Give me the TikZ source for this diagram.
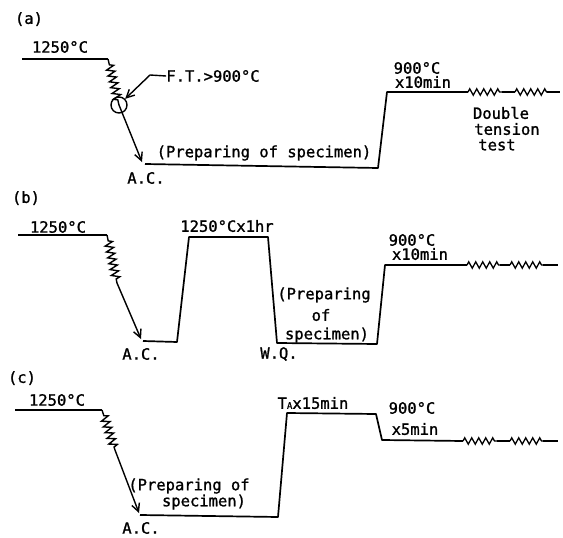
\documentclass[tikz,border=0pt]{standalone}
\usepackage{fontspec}
\setmainfont{DejaVu Sans Mono}[AutoFakeBold=1.2]
\usetikzlibrary{decorations.pathmorphing,arrows.meta}
\tikzset{
  curve/.style={line width=1.7pt, line join=round},
  zz/.style={line width=1.3pt, decorate, decoration={zigzag, segment length=7pt, amplitude=3.2pt}},
  zzd/.style={line width=1.4pt, decorate, decoration={zigzag, segment length=6pt, amplitude=4pt, pre length=6pt, post length=3pt}},
  tip/.style={line width=1.4pt, -{Straight Barb[length=8pt,width=8pt,line width=1.4pt]}},
  lab/.style={font=\fontsize{15.5}{16}\selectfont\bfseries, inner sep=0pt, text=black},
}
\begin{document}
\begin{tikzpicture}[x=1pt,y=-1pt]
\useasboundingbox (0,0) rectangle (563,538);
% ---------- (a) ----------
\coordinate (a1) at (22,59);
\coordinate (a2) at (108,59);
\coordinate (ac) at (119,105);
\coordinate (at) at (142,162);
\coordinate (a3) at (145,164);
\coordinate (a4) at (378,168);
\coordinate (a5) at (387,92);
\coordinate (a6) at (468,92);
\coordinate (a7) at (502,92);
\coordinate (a8) at (515,92);
\coordinate (a9) at (547,92);
\coordinate (a10) at (560,92);
\draw[curve] (a1) -- (a2);
\draw[zzd] (a2) -- (ac);
\draw[tip] (ac) -- (at);
\draw[curve] (a3) -- (a4) -- (a5) -- (a6);
\draw[zz] (a6) -- (a7);
\draw[curve] (a7) -- (a8);
\draw[zz] (a8) -- (a9);
\draw[curve] (a9) -- (a10);
\node[draw, circle, line width=1.4pt, minimum size=16pt, inner sep=0pt] (circ) at (ac) {};
\node[lab] (ft) at (213,76) {F.T.>900°C};
\coordinate (fp) at (150,75);
\draw[tip] (ft.west) -- (fp) -- (circ.north east);
\node[lab] (la) at (29,19) {(a)};
\node[lab] (a1250) at (60,47) {1250°C};
\node[lab] (aprep) at (264,153) {(Preparing of specimen)};
\node[lab] (aac) at (146,178) {A.C.};
\node[lab] (a900) at (417,68) {900°C};
\node[lab] (a10m) at (423,82) {x10min};
\node[lab] (dbl) at (501,113) {Double};
\node[lab] (ten) at (507,129) {tension};
\node[lab] (tst) at (497,145) {test};
% ---------- (b) ----------
\coordinate (b1) at (18,235);
\coordinate (b2) at (107,235);
\coordinate (bz) at (117,283);
\coordinate (bt) at (141,339);
\coordinate (b3) at (143,341);
\coordinate (b4) at (177,342);
\coordinate (b5) at (189,237);
\coordinate (b6) at (268,237);
\coordinate (b7) at (277,343);
\coordinate (b8) at (377,344);
\coordinate (b9) at (385,265);
\coordinate (b10) at (467,265);
\coordinate (b11) at (500,265);
\coordinate (b12) at (510,265);
\coordinate (b13) at (543,265);
\coordinate (b14) at (558,265);
\draw[curve] (b1) -- (b2);
\draw[zzd] (b2) -- (bz);
\draw[tip] (bz) -- (bt);
\draw[curve] (b3) -- (b4) -- (b5) -- (b6) -- (b7) -- (b8) -- (b9) -- (b10);
\draw[zz] (b10) -- (b11);
\draw[curve] (b11) -- (b12);
\draw[zz] (b12) -- (b13);
\draw[curve] (b13) -- (b14);
\node[lab] (lb) at (26,198) {(b)};
\node[lab] (b1250) at (58,227) {1250°C};
\node[lab] (b1hr) at (227,226) {1250°Cx1hr};
\node[lab] (bac) at (141,354) {A.C.};
\node[lab] (bwq) at (279,354) {W.Q.};
\node[lab] (bp1) at (324,295) {(Preparing};
\node[lab] (bp2) at (321,315) {of};
\node[lab] (bp3) at (327,335) {specimen)};
\node[lab] (b900) at (412,240) {900°C};
\node[lab] (b10m) at (420,254) {x10min};
% ---------- (c) ----------
\coordinate (c1) at (15,410);
\coordinate (c2) at (102,410);
\coordinate (cz) at (115,450);
\coordinate (ct) at (139,513);
\coordinate (c3) at (140,515);
\coordinate (c4) at (278,517);
\coordinate (c5) at (287,413);
\coordinate (c6) at (376,414);
\coordinate (c7) at (382,440);
\coordinate (c8) at (463,441);
\coordinate (c9) at (497,441);
\coordinate (c10) at (510,441);
\coordinate (c11) at (543,441);
\coordinate (c12) at (558,441);
\draw[curve] (c1) -- (c2);
\draw[zzd] (c2) -- (cz);
\draw[tip] (cz) -- (ct);
\draw[curve] (c3) -- (c4) -- (c5) -- (c6) -- (c7) -- (c8);
\draw[zz] (c8) -- (c9);
\draw[curve] (c9) -- (c10);
\draw[zz] (c10) -- (c11);
\draw[curve] (c11) -- (c12);
\node[lab] (lc) at (22,378) {(c)};
\node[lab] (c1250) at (57,400) {1250°C};
\node[lab] (cta) at (313,403) {T{\fontsize{9}{9}\selectfont A}x15min};
\node[lab] (c900) at (412,408) {900°C};
\node[lab] (c5m) at (415,429) {x5min};
\node[lab] (cp1) at (189,486) {(Preparing of};
\node[lab] (cp2) at (204,502) {specimen)};
\node[lab] (cac) at (141,528) {A.C.};
\end{tikzpicture}
\end{document}
